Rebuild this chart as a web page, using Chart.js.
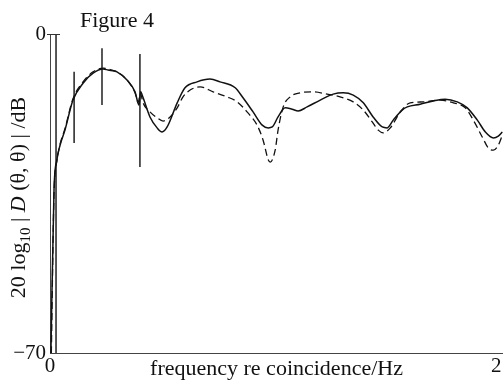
<!DOCTYPE html>
<html>
<head>
<meta charset="utf-8">
<style>
  html, body { margin: 0; padding: 0; background: #fff; }
  #wrap { width: 503px; height: 385px; }
</style>
</head>
<body>
<div id="wrap"><canvas id="fig"></canvas></div>
<script src="https://cdn.jsdelivr.net/npm/chart.js"></script>
<script>
  // measured curve (solid)
  var freqSolid = [0.004, 0.018, 0.031, 0.045, 0.067, 0.103, 0.148, 0.193, 0.238, 0.260, 0.300, 0.345,
    0.381, 0.399, 0.406, 0.413,
    0.448, 0.480, 0.502, 0.525, 0.570, 0.605, 0.659, 0.717, 0.762, 0.830, 0.865, 0.910, 0.951, 0.978, 0.996,
    1.022, 1.054, 1.085, 1.112, 1.152, 1.211, 1.269, 1.314, 1.359, 1.404, 1.448, 1.489, 1.511, 1.538, 1.578,
    1.601, 1.659, 1.717, 1.771, 1.825, 1.870, 1.915, 1.951, 1.987, 2.009, 2.027];
  var dbSolid = [-70, -34.2, -27.6, -24.4, -21.1, -14.5, -10.8, -8.6, -7.7, -7.9, -8.3, -10.1,
    -12.7, -15.6, -12.6, -13.4,
    -18.2, -20.6, -21.5, -20.4, -15.1, -11.8, -10.5, -9.9, -10.5, -11.8, -14.0, -17.1, -20.0, -20.6, -20.4,
    -18.2, -16.2, -16.5, -16.9, -16.0, -14.5, -13.2, -12.9, -13.4, -15.1, -18.2, -20.4, -20.6, -18.9, -16.7,
    -16.0, -15.4, -14.7, -14.3, -14.9, -16.2, -18.9, -21.5, -22.8, -22.4, -21.5];

  // narrow spikes on the measured curve
  var spikeFreq = [0.027, 0.108, 0.233, 0.403];
  var spikeTop = [0, -8.3, -3.1, -4.4];
  var spikeBottom = [-70, -23.9, -15.6, -29.2];

  // predicted curve (dashed)
  var freqDashed = [0.006, 0.018, 0.031, 0.045, 0.067, 0.103, 0.148, 0.193, 0.238, 0.260, 0.300, 0.345,
    0.381, 0.395, 0.405, 0.417, 0.448, 0.480, 0.507, 0.538, 0.570, 0.596, 0.628, 0.673, 0.731, 0.794, 0.839,
    0.883, 0.928, 0.955, 0.978, 0.987, 1.009, 1.022, 1.045, 1.076, 1.121, 1.179, 1.242, 1.300, 1.359, 1.404,
    1.444, 1.471, 1.493, 1.525, 1.570, 1.614, 1.673, 1.749, 1.807, 1.861, 1.897, 1.937, 1.964, 1.987, 2.009, 2.027];
  var dbDashed = [-70, -35.0, -27.8, -24.2, -20.8, -14.2, -10.5, -8.3, -7.5, -7.7, -8.3, -10.1,
    -12.9, -15.0, -13.0, -15.1, -17.1, -18.4, -19.1, -18.2, -16.2, -13.8, -12.3, -11.6, -12.7, -13.8, -14.9,
    -17.1, -20.0, -23.3, -27.6, -28.1, -25.5, -21.1, -16.0, -13.8, -12.9, -12.7, -13.2, -13.8, -14.9, -16.7,
    -19.3, -21.1, -21.7, -20.6, -17.1, -15.1, -14.9, -14.5, -15.1, -16.2, -18.9, -22.6, -25.0, -25.5, -24.4, -22.2];

  var xTicks = [0, 2];
  var yTicks = [-70, 0];

  function pts(xs, ys) {
    return xs.map(function (x, i) { return { x: x, y: ys[i] }; });
  }

  // vertical segments separated by gaps
  var spikePts = [];
  spikeFreq.forEach(function (f, i) {
    spikePts.push({ x: f, y: spikeTop[i] }, { x: f, y: spikeBottom[i] }, { x: f, y: null });
  });

  var serif = "'Liberation Serif', 'DejaVu Serif', serif";

  // y label drawn in pieces so D can be italic and 10 a subscript
  var yLabel = [
    { t: "20 log", f: "22px " + serif, dy: 0 },
    { t: "10", f: "15px " + serif, dy: 5 },
    { t: " | ", f: "22px " + serif, dy: 0 },
    { t: "D", f: "italic 22px " + serif, dy: 0 },
    { t: " (\u03b8, \u03b8) | /dB", f: "22px " + serif, dy: 0 },
  ];

  const extras = {
    id: "extras",
    afterDraw: function (chart) {
      const ctx = chart.ctx;
      const ys = chart.scales.y;
      const area = chart.chartArea;
      ctx.save();
      // short inward tick at the top of the y axis
      ctx.strokeStyle = "#333";
      ctx.lineWidth = 1;
      var ty = Math.round(ys.getPixelForValue(0)) + 0.5;
      ctx.beginPath();
      ctx.moveTo(area.left - 3, ty);
      ctx.lineTo(area.left + 10, ty);
      ctx.stroke();
      // figure caption
      ctx.fillStyle = "#111";
      ctx.font = "22px " + serif;
      ctx.textBaseline = "alphabetic";
      ctx.fillText("Figure 4", 80, 27);
      // rotated y label
      var total = 0;
      yLabel.forEach(function (p) { ctx.font = p.f; total += ctx.measureText(p.t).width; });
      ctx.translate(25, (area.top + area.bottom) / 2 + 4);
      ctx.rotate(-Math.PI / 2);
      var x = -total / 2;
      yLabel.forEach(function (p) {
        ctx.font = p.f;
        ctx.fillText(p.t, x, p.dy);
        x += ctx.measureText(p.t).width;
      });
      ctx.restore();
    },
  };

  new Chart(document.getElementById("fig"), {
    type: "line",
    data: {
      datasets: [
        {
          label: "solid",
          data: pts(freqSolid, dbSolid),
          borderColor: "#111",
          borderWidth: 1.5,
          pointRadius: 0,
          cubicInterpolationMode: "monotone",
        },
        {
          label: "spikes",
          data: spikePts,
          borderColor: "#111",
          borderWidth: 1.4,
          pointRadius: 0,
          spanGaps: false,
          tension: 0,
        },
        {
          label: "dashed",
          data: pts(freqDashed, dbDashed),
          borderColor: "#111",
          borderWidth: 1.3,
          borderDash: [7, 4],
          pointRadius: 0,
          cubicInterpolationMode: "monotone",
        },
      ],
    },
    options: {
      responsive: true,
      maintainAspectRatio: false,
      animation: false,
      layout: { padding: { top: 34, right: 0, left: 0, bottom: 0 } },
      plugins: {
        legend: { display: false },
        tooltip: { enabled: false },
      },
      scales: {
        x: {
          type: "linear",
          min: 0,
          max: 2.03,
          afterFit: function (s) { s.height = 32; },
          afterBuildTicks: function (s) { s.ticks = xTicks.map(function (v) { return { value: v }; }); },
          grid: { display: false, drawTicks: false },
          border: { display: true, color: "#444", width: 1 },
          ticks: {
            color: "#111",
            font: { family: serif, size: 21 },
            padding: 1,
            maxRotation: 0,
          },
          title: {
            display: true,
            text: "frequency re coincidence/Hz",
            color: "#111",
            font: { family: serif, size: 22 },
            padding: { top: 0, bottom: 3 },
          },
        },
        y: {
          min: -70,
          max: 0,
          afterFit: function (s) { s.width = 50; },
          afterBuildTicks: function (s) { s.ticks = yTicks.map(function (v) { return { value: v }; }); },
          grid: { display: false, drawTicks: false },
          border: { display: true, color: "#444", width: 1 },
          ticks: {
            color: "#111",
            font: { family: serif, size: 21 },
            padding: 4,
            callback: function (v) { return v < 0 ? "\u2212" + Math.abs(v) : String(v); },
          },
          title: { display: false },
        },
      },
    },
    plugins: [extras],
  });
</script>
</body>
</html>
